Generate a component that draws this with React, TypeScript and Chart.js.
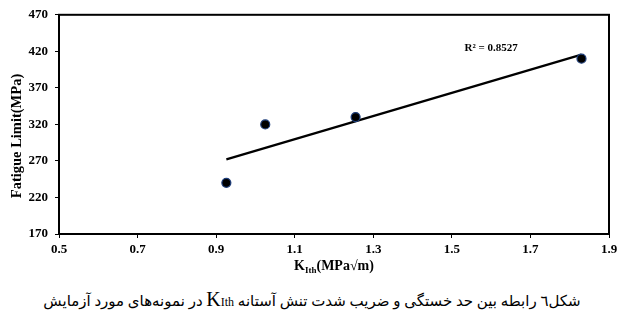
import React, { useEffect, useRef } from "react";
import { Chart, registerables } from "chart.js";

Chart.register(...registerables);

const kIth = [0.926, 1.025, 1.255, 1.83];
const fatigueLimit = [240, 320, 330, 410];
const xMin = 0.5, xMax = 1.9, xStep = 0.2;
const yMin = 170, yMax = 470, yStep = 50;
const r2Label = "R² = 0.8527";
const r2Pos = { x: 1.6, y: 425 };
const yTitle = "Fatigue Limit(MPa)";

function regression(xs: number[], ys: number[]) {
  const n = xs.length;
  const mx = xs.reduce((a, b) => a + b, 0) / n;
  const my = ys.reduce((a, b) => a + b, 0) / n;
  let sxy = 0, sxx = 0;
  for (let i = 0; i < n; i++) {
    sxy += (xs[i] - mx) * (ys[i] - my);
    sxx += (xs[i] - mx) * (xs[i] - mx);
  }
  const slope = sxy / sxx;
  return { slope, intercept: my - slope * mx };
}

const SERIF = "'Liberation Serif', 'Times New Roman', serif";

const decorPlugin = {
  id: "decor",
  afterDraw(chart: any) {
    const { ctx, chartArea: a, scales } = chart;
    ctx.save();
    // frame
    ctx.strokeStyle = "#000";
    ctx.lineWidth = 2;
    ctx.strokeRect(a.left, a.top, a.right - a.left, a.bottom - a.top);
    // R2 label
    ctx.fillStyle = "#000";
    ctx.font = `bold 11px ${SERIF}`;
    ctx.textAlign = "center";
    ctx.textBaseline = "middle";
    ctx.fillText(r2Label, scales.x.getPixelForValue(r2Pos.x), scales.y.getPixelForValue(r2Pos.y));
    // y title
    ctx.save();
    ctx.translate(17, 136);
    ctx.rotate(-Math.PI / 2);
    ctx.font = `bold 14.5px ${SERIF}`;
    ctx.fillText(yTitle, 0, 0);
    ctx.restore();
    // x title with subscript
    const big = `bold 14px ${SERIF}`;
    const small = `bold 9px ${SERIF}`;
    ctx.font = big;
    const wK = ctx.measureText("K").width;
    const wRest = ctx.measureText("(MPa√m)").width;
    ctx.font = small;
    const wSub = ctx.measureText("Ith").width;
    const total = wK + wSub + wRest;
    let x = (a.left + a.right) / 2 - total / 2;
    const yBase = 270;
    ctx.textAlign = "left";
    ctx.textBaseline = "alphabetic";
    ctx.font = big;
    ctx.fillText("K", x, yBase);
    x += wK;
    ctx.font = small;
    ctx.fillText("Ith", x, yBase + 3);
    x += wSub;
    ctx.font = big;
    ctx.fillText("(MPa√m)", x, yBase);
    ctx.restore();
  },
};

export default function App() {
  const ref = useRef<HTMLCanvasElement>(null);
  useEffect(() => {
    document.body.style.margin = "0";
    const { slope, intercept } = regression(kIth, fatigueLimit);
    const x0 = Math.min(...kIth), x1 = Math.max(...kIth);
    const trend = [
      { x: x0, y: slope * x0 + intercept },
      { x: x1, y: slope * x1 + intercept },
    ];
    const chart = new Chart(ref.current!, {
      type: "scatter",
      data: {
        datasets: [
          {
            type: "line",
            data: trend,
            borderColor: "#000",
            borderWidth: 2.2,
            pointRadius: 0,
            fill: false,
            order: 2,
          } as any,
          {
            data: kIth.map((x, i) => ({ x, y: fatigueLimit[i] })),
            backgroundColor: "#000",
            borderColor: "#1d3d7a",
            borderWidth: 1.2,
            pointRadius: 4.5,
            order: 1,
          },
        ],
      },
      options: {
        animation: false,
        responsive: false,
        maintainAspectRatio: false,
        layout: { padding: { left: 0, top: 14, right: 15, bottom: 0 } },
        plugins: { legend: { display: false }, tooltip: { enabled: false } },
        scales: {
          x: {
            type: "linear",
            min: xMin,
            max: xMax,
            afterBuildTicks: (s: any) => {
              const t = [];
              for (let v = xMin; v <= xMax + 1e-9; v += xStep) t.push({ value: Math.round(v * 10) / 10 });
              s.ticks = t;
            },
            afterFit: (s: any) => { s.height = 46; },
            grid: { drawOnChartArea: false, tickLength: 4, color: "#000" },
            border: { color: "#000", width: 2 },
            ticks: {
              color: "#000",
              padding: 4,
              maxRotation: 0,
              font: { family: SERIF, size: 13, weight: "bold" },
              callback: (v: any) => Number(v).toFixed(1),
            },
          },
          y: {
            min: yMin,
            max: yMax,
            ticks: {
              stepSize: yStep,
              color: "#000",
              padding: 7,
              font: { family: SERIF, size: 13, weight: "bold" },
            },
            afterFit: (s: any) => { s.width = 59; },
            grid: { drawOnChartArea: false, tickLength: 4, color: "#000" },
            border: { color: "#000", width: 2 },
          },
        },
      },
      plugins: [decorPlugin],
    } as any);
    return () => chart.destroy();
  }, []);
  return (
    <div style={{ width: 624, height: 326, background: "#fff", position: "relative" }}>
      <canvas ref={ref} width={624} height={280} style={{ display: "block" }} />
      <div
        dir="rtl"
        style={{
          position: "absolute",
          top: 288,
          left: 0,
          width: 624,
          textAlign: "center",
          fontFamily: "'Liberation Serif', 'DejaVu Sans', serif",
          fontSize: 15,
          color: "#000",
        }}
      >
        شکل٦ رابطه بین حد خستگی و ضریب شدت تنش آستانه{" "}
        <bdi dir="ltr">
          <span style={{ fontSize: 20 }}>K</span>
          <span style={{ fontSize: 12 }}>Ith</span>
        </bdi>{" "}
        در نمونه‌های مورد آزمایش
      </div>
    </div>
  );
}
